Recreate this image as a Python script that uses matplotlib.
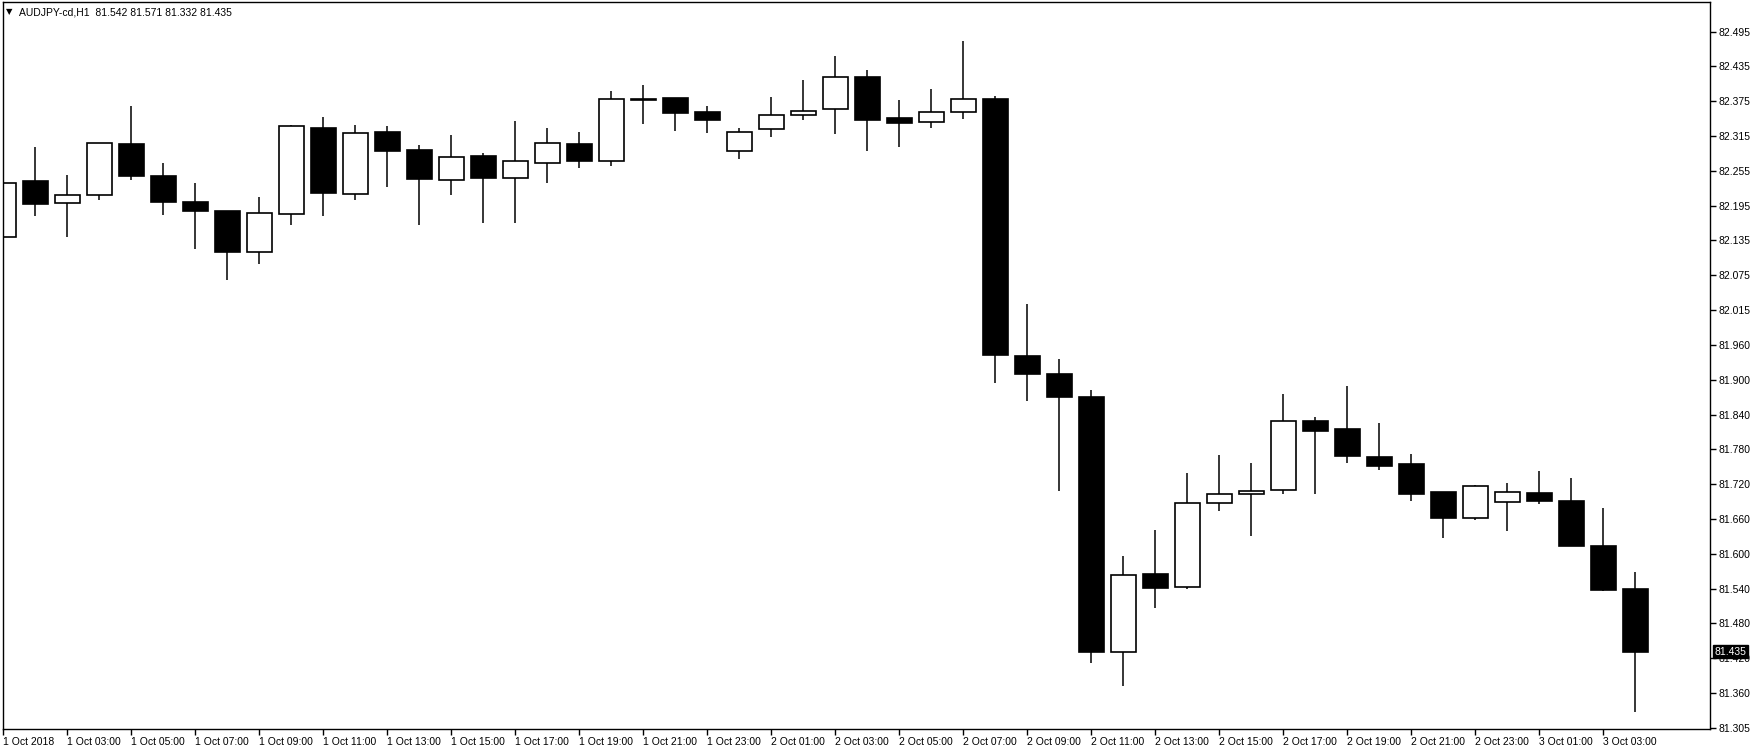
import matplotlib.pyplot as plt
import numpy as np

# AUDJPY-cd, H1 bars from 1 Oct 2018 01:00 to 3 Oct 2018 04:00
opens = [82.144, 82.239, 82.202, 82.216, 82.302, 82.248, 82.203, 82.188, 82.118, 82.183,
         82.331, 82.218, 82.323, 82.292, 82.242, 82.282, 82.244, 82.271, 82.302, 82.274,
         82.379, 82.381, 82.357, 82.290, 82.328, 82.352, 82.363, 82.417, 82.347, 82.341,
         82.357, 82.379, 81.941, 81.909, 81.871, 81.435, 81.568, 81.545, 81.689, 81.704,
         81.711, 81.829, 81.816, 81.768, 81.756, 81.708, 81.663, 81.691, 81.706, 81.692,
         81.616, 81.542]
highs = [82.238, 82.297, 82.249, 82.305, 82.367, 82.270, 82.236, 82.189, 82.213, 82.335,
         82.349, 82.335, 82.333, 82.301, 82.319, 82.287, 82.342, 82.331, 82.323, 82.393,
         82.403, 82.382, 82.368, 82.330, 82.383, 82.412, 82.453, 82.429, 82.378, 82.397,
         82.479, 82.384, 82.030, 81.936, 81.883, 81.599, 81.643, 81.741, 81.771, 81.758,
         81.876, 81.837, 81.890, 81.826, 81.773, 81.708, 81.720, 81.724, 81.744, 81.732,
         81.681, 81.571]
lows = [82.121, 82.180, 82.144, 82.207, 82.241, 82.181, 82.123, 82.070, 82.097, 82.165,
        82.180, 82.207, 82.229, 82.164, 82.216, 82.168, 82.168, 82.236, 82.262, 82.265,
        82.337, 82.325, 82.322, 82.277, 82.315, 82.344, 82.320, 82.291, 82.298, 82.330,
        82.345, 81.894, 81.863, 81.709, 81.416, 81.377, 81.510, 81.543, 81.675, 81.633,
        81.704, 81.705, 81.757, 81.745, 81.692, 81.630, 81.661, 81.642, 81.688, 81.616,
        81.538, 81.332]
closes = [82.237, 82.200, 82.216, 82.304, 82.248, 82.204, 82.188, 82.118, 82.185, 82.333,
          82.219, 82.321, 82.291, 82.243, 82.280, 82.245, 82.273, 82.304, 82.274, 82.379,
          82.378, 82.356, 82.344, 82.324, 82.352, 82.360, 82.417, 82.344, 82.339, 82.357,
          82.379, 81.942, 81.909, 81.870, 81.435, 81.566, 81.544, 81.689, 81.704, 81.709,
          81.829, 81.813, 81.769, 81.753, 81.705, 81.663, 81.718, 81.708, 81.692, 81.616,
          81.540, 81.435]

time_labels = ["1 Oct 2018", "1 Oct 03:00", "1 Oct 05:00", "1 Oct 07:00", "1 Oct 09:00",
               "1 Oct 11:00", "1 Oct 13:00", "1 Oct 15:00", "1 Oct 17:00", "1 Oct 19:00",
               "1 Oct 21:00", "1 Oct 23:00", "2 Oct 01:00", "2 Oct 03:00", "2 Oct 05:00",
               "2 Oct 07:00", "2 Oct 09:00", "2 Oct 11:00", "2 Oct 13:00", "2 Oct 15:00",
               "2 Oct 17:00", "2 Oct 19:00", "2 Oct 21:00", "2 Oct 23:00", "3 Oct 01:00",
               "3 Oct 03:00"]
price_labels = ["82.495", "82.435", "82.375", "82.315", "82.255", "82.195", "82.135",
                "82.075", "82.015", "81.960", "81.900", "81.840", "81.780", "81.720",
                "81.660", "81.600", "81.540", "81.480", "81.420", "81.360", "81.305"]

symbol = "AUDJPY-cd,H1"

plt.rcParams['font.family'] = ['Liberation Sans', 'DejaVu Sans']

fig = plt.figure(figsize=(17.5, 7.5), dpi=100)
ax = fig.add_axes([2.5 / 1750, 21 / 750, (1710 - 2.5) / 1750, (729 - 2) / 750])

x = np.arange(len(opens))
o = np.array(opens)
c = np.array(closes)
up = c >= o

# wicks first so white bodies hide them
ax.vlines(x, lows, highs, color='black', linewidth=1.1, zorder=1)
body_h = np.maximum(np.abs(c - o), 0.0008)
ax.bar(x, body_h, bottom=np.minimum(o, c), width=0.77,
       color=np.where(up, 'white', 'black'), edgecolor='black', linewidth=1.2, zorder=2)

ax.set_xlim(-0.03, 53.33)
ax.set_ylim(81.303, 82.5455)

# x axis: label every two bars, text starts right of the tick
ax.set_xticks(x[::2][:len(time_labels)])
ax.set_xticklabels(time_labels, fontsize=7.5)
for lab in ax.get_xticklabels():
    lab.set_horizontalalignment('left')
ax.tick_params(axis='x', direction='out', length=4, width=1, pad=2)

# price scale on the right
ax.yaxis.tick_right()
yticks = np.linspace(float(price_labels[0]), float(price_labels[-1]), len(price_labels))
ax.set_yticks(yticks)
ax.set_yticklabels(price_labels, fontsize=7.5)
ax.tick_params(axis='y', direction='out', length=4, width=1, pad=2)

for sp in ax.spines.values():
    sp.set_color('black')
    sp.set_linewidth(1)

# current price marker
ax.annotate(f"{closes[-1]:.3f}", xy=(1.0, closes[-1]), xycoords=('axes fraction', 'data'),
            xytext=(3, 0), textcoords='offset points', ha='left', va='center',
            fontsize=7.5, color='white',
            bbox=dict(boxstyle='square,pad=0.15', facecolor='black', edgecolor='black'))

# header line
ax.text(0.002, 0.993, "\u25bc", transform=ax.transAxes, fontsize=6, va='top',
        family=['DejaVu Sans'])
ax.text(0.0095, 0.993,
        f"{symbol}  {opens[-1]:.3f} {highs[-1]:.3f} {lows[-1]:.3f} {closes[-1]:.3f}",
        transform=ax.transAxes, fontsize=7.5, va='top')

fig.savefig('out.png', dpi=100, facecolor='white')
